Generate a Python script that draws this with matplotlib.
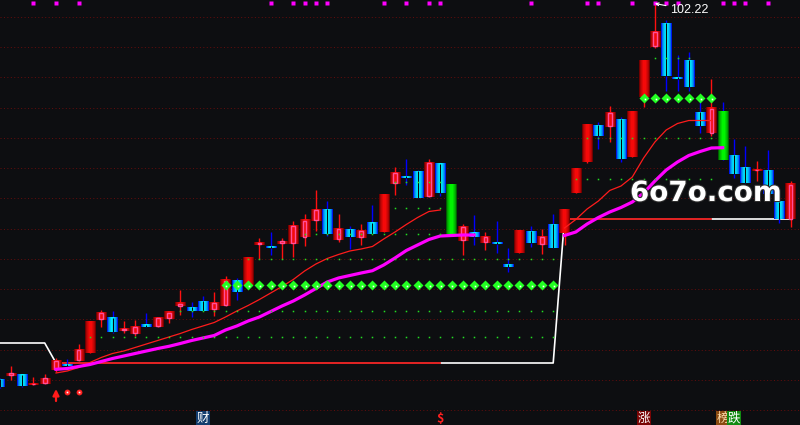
import numpy as np
import matplotlib
matplotlib.use("Agg")
import matplotlib.pyplot as plt
import matplotlib.colors as mcolors
import matplotlib.patheffects as pe
from matplotlib.patches import Rectangle

nan = np.nan

# daily bars
opens = [27.12, 27.78, 27.92, 26.02, 26.18, 28.92, 30.18, 30.72, 32.38, 38.92,
         39.38, 36.72, 36.12, 37.78, 37.58, 39.12, 41.66, 41.58, 42.72, 40.92,
         41.72, 46.92, 45.92, 53.98, 53.58, 54.18, 54.18, 55.46, 58.72, 61.12,
         54.92, 57.12, 55.32, 58.32, 56.58, 66.12, 67.78, 68.72, 63.52, 70.12,
         66.12, 54.78, 56.32, 54.38, 54.58, 50.12, 52.26, 56.72, 53.98, 58.12,
         56.26, 64.26, 70.58, 77.92, 77.58, 79.12, 71.58, 83.58, 93.58, 98.26,
         87.38, 90.92, 80.52, 76.26, 80.72, 71.92, 69.58, 68.72, 68.92, 62.58,
         59.06]
highs = [27.32, 29.72, 27.92, 27.52, 28.12, 31.26, 31.12, 34.12, 38.78, 40.92,
         40.66, 38.66, 38.92, 40.26, 39.38, 40.72, 44.92, 42.52, 43.72, 44.52,
         47.72, 47.38, 51.38, 55.32, 56.58, 55.32, 58.78, 60.12, 64.92, 62.72,
         60.12, 57.72, 58.12, 61.92, 64.12, 69.52, 71.12, 68.92, 71.12, 70.12,
         66.12, 58.12, 59.92, 56.52, 58.72, 53.32, 56.72, 57.72, 57.12, 60.12,
         60.92, 69.12, 78.12, 78.58, 81.72, 79.46, 80.72, 90.92, 102.22, 98.92,
         91.92, 92.58, 82.58, 87.12, 82.58, 75.12, 73.72, 70.72, 72.92, 62.58,
         66.72]
lows = [25.32, 26.92, 25.52, 25.92, 26.12, 28.58, 29.72, 30.72, 32.38, 37.58,
        36.26, 36.26, 35.72, 37.52, 37.58, 38.38, 39.86, 39.58, 40.72, 39.78,
        41.72, 42.92, 45.92, 51.06, 51.92, 51.06, 51.46, 53.72, 56.72, 55.72,
        54.52, 53.12, 53.92, 56.12, 56.58, 63.92, 65.92, 63.32, 63.52, 63.78,
        55.92, 51.92, 53.92, 52.92, 52.38, 48.58, 52.26, 53.46, 52.18, 53.38,
        53.92, 64.26, 70.32, 73.12, 74.58, 70.58, 71.58, 81.52, 93.26, 84.78,
        84.78, 84.78, 76.32, 75.78, 70.92, 67.32, 66.38, 66.78, 64.12, 58.32,
        57.58]
closes = [25.52, 28.38, 25.72, 26.32, 27.38, 30.92, 29.78, 33.12, 38.78, 40.52,
          36.46, 37.18, 37.72, 37.52, 39.38, 40.52, 42.32, 40.78, 40.72, 42.52,
          46.92, 44.58, 51.38, 54.52, 53.32, 54.78, 57.92, 58.92, 61.12, 56.12,
          57.32, 55.52, 56.92, 56.12, 64.12, 68.52, 67.38, 63.32, 70.52, 64.32,
          55.92, 57.72, 55.46, 55.72, 54.18, 49.58, 56.72, 54.32, 55.72, 53.38,
          60.92, 69.12, 78.12, 75.78, 80.52, 71.12, 80.72, 90.92, 96.72, 87.78,
          87.12, 85.58, 77.78, 81.32, 70.92, 68.12, 66.38, 69.12, 64.12, 59.06,
          66.12]

# days with a limit move (solid bars)
limit_days = [8, 22, 34, 40, 46, 50, 51, 52, 56, 57, 64]

ma_short = [nan, nan, nan, nan, nan,
            28.32, 28.72, 29.42, 30.42, 31.42, 32.22, 32.72, 33.42, 34.12, 34.82,
            35.52, 36.22, 37.02, 37.72, 38.42, 39.52, 40.72, 41.82, 43.02, 44.32,
            45.62, 47.02, 48.72, 50.12, 51.22, 52.02, 52.72, 53.12, 53.62, 55.12,
            56.52, 58.02, 59.42, 60.62, 60.92,
            nan, nan, nan, nan, nan, nan, nan, nan, nan, nan,
            57.32, 59.02, 61.12, 62.72, 64.82, 65.72, 67.52, 71.32, 74.52, 76.92,
            78.22, 78.82, 78.82, 78.82,
            nan, nan, nan, nan, nan, nan, nan]
ma_long = [nan, nan, nan, nan, nan,
           29.06, 29.22, 29.62, 30.02, 30.62, 31.22, 31.72, 32.22, 32.72, 33.22,
           33.66, 34.22, 34.82, 35.32, 35.82, 36.92, 37.72, 38.72, 39.52, 40.62,
           41.72, 42.72, 43.92, 45.22, 46.52, 47.32, 47.82, 48.32, 48.78, 49.92,
           51.32, 52.82, 53.92, 55.02, 55.72, 55.82, 55.92, 55.92,
           nan, nan, nan, nan, nan, nan, nan,
           55.82, 56.52, 58.12, 59.42, 60.52, 61.42, 62.52, 64.32, 66.72, 68.92,
           70.52, 71.82, 72.62, 73.32, 73.38,
           nan, nan, nan, nan, nan, nan]

# stepped support level: starts at day, value
level_start = [0, 5, 50]
level_value = [34.32, 30.32, 59.12]

# small dotted levels: (price, first day, last day)
dot_rows = [(40.72, 16, 49), (35.52, 8, 49), (51.12, 22, 49), (56.12, 27, 39),
            (61.32, 35, 39), (66.52, 35, 39), (75.26, 52, 63), (67.06, 51, 63),
            (91.26, 58, 61)]
# big green markers
big_rows = [(45.92, 20, 49), (83.38, 57, 63)]

flag_days = [3, 5, 7, 24, 26, 27, 28, 29, 34, 36, 38, 39, 47, 52, 53, 56, 58, 59,
             60, 64, 65, 66, 68]
buy_arrow_days = [5]
buy_dot_days = [6, 7]
events = [(18, '财'), (39, '$'), (57, '涨'), (64, '榜'), (65, '跌')]

# ---- drawing ----
bg = '#0d0e11'
fig = plt.figure(figsize=(8, 4.25), dpi=100, facecolor=bg)
ax = fig.add_axes([0, 0, 1, 1])
ax.set_facecolor(bg)
ax.set_axis_off()

n = len(closes)
days = np.arange(n)
W = 0.9


def gradient(edge, mid, k=10):
    t = 1 - np.abs(np.linspace(-1, 1, k))
    e = np.array(mcolors.to_rgb(edge))
    m = np.array(mcolors.to_rgb(mid))
    return (e + (m - e) * (t[:, None] ** 0.6))[None, :, :]


red_g = gradient('#700000', '#ff0a0a')
blue_g = gradient('#0018e8', '#00ffff')
green_g = gradient('#006000', '#00ff00')

# grid
for g in np.linspace(20.92, 99.52, 14):
    ax.axhline(g, color='#5e0d0d', lw=0.75, ls=(0, (1, 2.3)), zorder=1)

# white support level line
level = np.zeros(n)
for s, v in zip(level_start, level_value):
    level[s:] = v
ax.plot(days, level, color='white', lw=1.2, zorder=2)
red_level = np.where(np.isnan(ma_short), nan, level)
ax.plot(days, red_level, color='#e00000', lw=1.2, zorder=2.1)

for i in range(n):
    o, h, l, c = opens[i], highs[i], lows[i], closes[i]
    up = c >= o
    top, bot = max(o, c), min(o, c)
    if top - bot < 0.4:
        mid = (top + bot) / 2
        top, bot = mid + 0.2, mid - 0.2
    ax.vlines(i, l, h, color='#ff1010' if up else '#0000ff', lw=1, zorder=2.5)
    if up:
        img = red_g
    elif i in limit_days:
        img = green_g
    else:
        img = blue_g
    ax.imshow(img, extent=[i - W / 2, i + W / 2, bot, top], aspect='auto',
              interpolation='nearest', zorder=3)
    if i in limit_days:
        continue
    if up:
        ax.add_patch(Rectangle((i - 0.16, bot + 0.15), 0.32, max(top - bot - 0.3, 0.05),
                               fill=False, ec='#ff4f9a', lw=1, zorder=4))
    else:
        ax.vlines(i, bot, top, color='#05060a', lw=0.8, zorder=4)

# moving averages
ax.plot(days, ma_short, color='#ff1c1c', lw=0.9, zorder=5)
ax.plot(days, ma_long, color='#ff00ff', lw=2.3, zorder=5)

# dotted levels
for p, a, b in dot_rows:
    d = np.arange(a, b + 1)
    ax.plot(d, np.full(len(d), p), 's', ms=1.1, color='#22dd22', mec='none', zorder=6)
for p, a, b in big_rows:
    d = np.arange(a, b + 1)
    ax.plot(d, np.full(len(d), p), 'D', ms=4.6, color='#22ff22', mec='none', zorder=6)
    ax.plot(d, np.full(len(d), p), 'o', ms=4.4, color='#22ff22', mec='none', zorder=6)
    ax.plot(d + 0.08, np.full(len(d), p - 0.2), 's', ms=1.2, color='white',
            mec='none', zorder=6.1)

xt = ax.get_xaxis_transform()
# top flags
ax.plot(flag_days, [0.994] * len(flag_days), 's', ms=2.9, color='#ff00ff', mec='none',
        transform=xt, clip_on=False, zorder=7)

# buy signals
for d in buy_arrow_days:
    ax.annotate('', xy=(d, 1 - 389 / 425), xytext=(d, 1 - 401 / 425),
                xycoords=xt, textcoords=xt,
                arrowprops=dict(arrowstyle='-|>', color='#ff1a1a', lw=1.6,
                                mutation_scale=9, shrinkA=0, shrinkB=0), zorder=7)
ax.plot(buy_dot_days, [1 - 391.5 / 425] * len(buy_dot_days), 'o', ms=4.2,
        color='#ff2020', mec='none', transform=xt, zorder=7)
ax.plot(buy_dot_days, [1 - 391.5 / 425] * len(buy_dot_days), 's', ms=1.2,
        color='white', mec='none', transform=xt, zorder=7.1)

# high label
hi = int(np.argmax(highs))
ax.annotate(f'{highs[hi]:.2f}', xy=(hi, highs[hi]), xytext=(hi + 1.35, 100.9),
            color='white', fontsize=9, family=['Liberation Sans', 'DejaVu Sans'],
            va='center', ha='left',
            arrowprops=dict(arrowstyle='->', color='white', lw=0.8,
                            mutation_scale=5, shrinkA=1, shrinkB=0), zorder=8)

# bottom event tags
tag_style = {'财': ('white', '#123c6e'), '$': ('#ff2020', None), '涨': ('white', '#7a0404'),
             '榜': ('#ffe0b0', '#8a4a10'), '跌': ('white', '#128a12')}
for d, t in events:
    fc, bgc = tag_style[t]
    kw = {}
    if bgc:
        kw['bbox'] = dict(boxstyle='square,pad=0.06', fc=bgc, ec='none')
    ax.text(d, 1 - 418 / 425, t, transform=xt, ha='center', va='center',
            color=fc, fontsize=9, fontweight='bold' if t == '$' else 'normal',
            family=['Noto Sans CJK SC', 'DejaVu Sans'], zorder=8, **kw)

# watermark
ax.text(0.8825, 1 - 201 / 425, '6o7o.com', transform=ax.transAxes, ha='center',
        va='baseline', fontsize=20, fontweight='bold', color='white',
        family='DejaVu Sans', zorder=10,
        path_effects=[pe.withStroke(linewidth=1.5, foreground='#303030')])

ax.set_xlim(0.5 / 11.3, 800.5 / 11.3)
ax.set_ylim(102.92 - 425 / 5, 102.92)

fig.savefig('out.png', dpi=100, facecolor=bg)
